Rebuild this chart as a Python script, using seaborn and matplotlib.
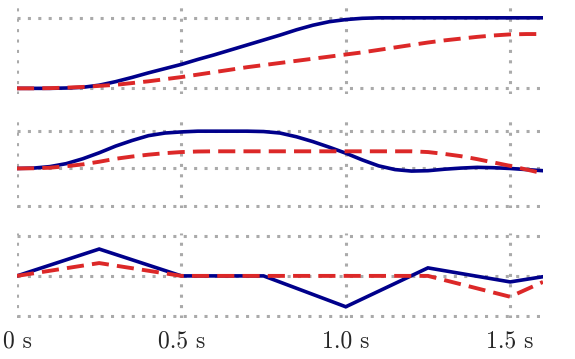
import matplotlib
matplotlib.use("Agg")
import matplotlib.pyplot as plt
import seaborn as sns
import pandas as pd

# time axis (s)
t_fine = [0.0, 0.05, 0.1, 0.15, 0.2, 0.25, 0.3, 0.35, 0.4, 0.45, 0.5, 0.55,
          0.6, 0.65, 0.7, 0.75, 0.8, 0.85, 0.9, 0.95, 1.0, 1.05, 1.1, 1.15,
          1.2, 1.25, 1.3, 1.35, 1.4, 1.45, 1.5, 1.55, 1.6]
t_coarse = [0.0, 0.25, 0.5, 0.75, 1.0, 1.25, 1.5, 1.6]

# top panel
top_blue = [0.0, 0.0, 0.0, 0.005, 0.015, 0.045, 0.095, 0.155, 0.22, 0.28, 0.34, 0.41,
            0.475, 0.545, 0.615, 0.685, 0.755, 0.83, 0.895, 0.945, 0.975, 0.993, 1.0, 1.0,
            1.0, 1.0, 1.0, 1.0, 1.0, 1.0, 1.0, 1.0, 1.0]
top_red = [0.0, 0.0, 0.003, 0.01, 0.02, 0.035, 0.05, 0.075, 0.1, 0.13, 0.16, 0.195,
           0.23, 0.265, 0.3, 0.33, 0.36, 0.39, 0.42, 0.45, 0.48, 0.51, 0.545, 0.58,
           0.615, 0.65, 0.68, 0.705, 0.73, 0.75, 0.765, 0.77, 0.77]

# middle panel
mid_blue = [0.0, 0.01, 0.05, 0.13, 0.26, 0.42, 0.6, 0.75, 0.88, 0.95, 0.98, 1.0,
            1.0, 1.0, 1.0, 0.99, 0.95, 0.85, 0.72, 0.57, 0.41, 0.23, 0.07, -0.03,
            -0.07, -0.06, -0.02, 0.01, 0.03, 0.02, 0.0, -0.03, -0.06]
mid_red = [0.0, 0.005, 0.02, 0.06, 0.11, 0.18, 0.26, 0.32, 0.37, 0.41, 0.44, 0.455,
           0.46, 0.46, 0.46, 0.46, 0.46, 0.46, 0.46, 0.46, 0.46, 0.46, 0.46, 0.46,
           0.46, 0.44, 0.39, 0.33, 0.25, 0.16, 0.07, -0.03, -0.13]

# bottom panel
bot_blue = [0.0, 0.67, 0.0, 0.0, -0.77, 0.2, -0.15, -0.02]
bot_red = [0.0, 0.32, 0.0, 0.0, 0.0, 0.0, -0.52, -0.15]

xtick_vals = [0.0, 0.5, 1.0, 1.5]
xtick_labels = ["0 s", "0.5 s", "1.0 s", "1.5 s"]

sns.set_style("white")
plt.rcParams["font.family"] = ["cmr10", "DejaVu Serif"]
plt.rcParams["axes.formatter.use_mathtext"] = True

fig = plt.figure(figsize=(5.75, 3.59), dpi=100)
W, H = 575.0, 359.0
left = 17 / W
width = 526 / W
# (top px, bottom px) of each panel
boxes = [(3, 94), (117, 208), (233, 318)]
ylims = [(-0.08, 1.21), (-1.06, 1.38), (-1.05, 1.07)]
yticks = [[0, 1], [-1, 0, 1], [-1, 0, 1]]
panels = [
    (t_fine, top_blue, top_red),
    (t_fine, mid_blue, mid_red),
    (t_coarse, bot_blue, bot_red),
]

blue = "#00008B"
red = "#DC2828"

for i, ((ptop, pbot), (tt, yb, yr)) in enumerate(zip(boxes, panels)):
    ax = fig.add_axes([left, 1 - pbot / H, width, (pbot - ptop) / H])
    df = pd.DataFrame({"t": tt, "blue": yb, "red": yr})
    sns.lineplot(data=df, x="t", y="blue", ax=ax, color=blue, lw=2.6,
                 solid_joinstyle="miter", zorder=3)
    sns.lineplot(data=df, x="t", y="red", ax=ax, color=red, lw=2.8,
                 linestyle=(0, (4.4, 2.1)), zorder=4)
    ax.set_xlim(0, 1.6)
    ax.set_ylim(*ylims[i])
    ax.set_xticks(xtick_vals)
    ax.set_yticks(yticks[i])
    ax.set_yticklabels([])
    ax.grid(True, color="#aaaaaa", lw=2.2, linestyle=(0, (1, 2.4)))
    ax.set_axisbelow(True)
    for s in ax.spines.values():
        s.set_visible(False)
    ax.tick_params(length=0, pad=9, labelsize=17)
    ax.set_xlabel("")
    ax.set_ylabel("")
    if i == 2:
        ax.set_xticklabels(xtick_labels)
    else:
        ax.set_xticklabels([])

fig.savefig("out.png", dpi=100)
